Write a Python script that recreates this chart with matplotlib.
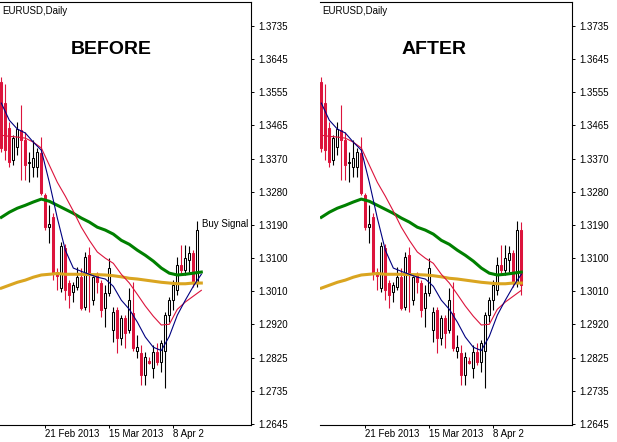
import numpy as np
import matplotlib
matplotlib.use("Agg")
import matplotlib.pyplot as plt
from matplotlib.transforms import Bbox, TransformedBbox, blended_transform_factory

plt.rcParams['font.family'] = ['Liberation Sans', 'DejaVu Sans']

# EURUSD daily bars, bar 0 ~ 6 Feb 2013
opens = [1.3581, 1.3524, 1.3455, 1.3368, 1.3403, 1.3450, 1.3422, 1.3359, 1.3348, 1.3348,
         1.3387, 1.3272, 1.3184, 1.3211, 1.3061, 1.3017, 1.3126, 1.3031, 1.3006, 1.3020,
         1.3047, 1.2965, 1.3107, 1.2984, 1.3053, 1.3031, 1.2962, 1.3003, 1.2902, 1.2957,
         1.2880, 1.2935, 1.2902, 1.2948, 1.2846, 1.2838, 1.2779, 1.2817, 1.2798, 1.2841,
         1.2814, 1.2846, 1.2943, 1.2984, 1.3011, 1.3080, 1.3066, 1.3094, 1.3113, 1.3031, 1.3176]
highs = [1.3595, 1.3576, 1.3472, 1.3436, 1.3472, 1.3518, 1.3444, 1.3390, 1.3422, 1.3401,
         1.3431, 1.3277, 1.3244, 1.3222, 1.3072, 1.3143, 1.3137, 1.3039, 1.3033, 1.3074,
         1.3072, 1.3116, 1.3129, 1.3050, 1.3061, 1.3039, 1.3025, 1.3099, 1.2965, 1.2965,
         1.2943, 1.2943, 1.3017, 1.3033, 1.2888, 1.2861, 1.2841, 1.2828, 1.2861, 1.2866,
         1.2874, 1.2951, 1.2992, 1.3039, 1.3102, 1.3135, 1.3135, 1.3132, 1.3121, 1.3201, 1.3198]
lows = [1.3390, 1.3368, 1.3348, 1.3354, 1.3381, 1.3313, 1.3313, 1.3307, 1.3321, 1.3321,
        1.3272, 1.3176, 1.3140, 1.3039, 1.3011, 1.3006, 1.2984, 1.2962, 1.2979, 1.3011,
        1.2957, 1.2957, 1.2951, 1.2970, 1.3003, 1.2937, 1.2910, 1.2995, 1.2869, 1.2838,
        1.2861, 1.2852, 1.2894, 1.2846, 1.2825, 1.2751, 1.2751, 1.2809, 1.2770, 1.2806,
        1.2787, 1.2743, 1.2924, 1.2957, 1.2998, 1.3058, 1.3053, 1.3061, 1.3020, 1.3020, 1.2998]
closes = [1.3401, 1.3395, 1.3362, 1.3428, 1.3453, 1.3422, 1.3354, 1.3362, 1.3373, 1.3390,
          1.3277, 1.3184, 1.3192, 1.3058, 1.3050, 1.3132, 1.3011, 1.2998, 1.3025, 1.3047,
          1.2962, 1.3102, 1.3053, 1.3047, 1.3033, 1.2957, 1.3003, 1.3072, 1.2951, 1.2880,
          1.2935, 1.2894, 1.2984, 1.2852, 1.2855, 1.2779, 1.2828, 1.2811, 1.2841, 1.2814,
          1.2866, 1.2943, 1.2984, 1.3025, 1.3080, 1.3066, 1.3099, 1.3113, 1.3031, 1.3176, 1.3025]

# moving averages, read every second bar
ma_x = list(range(0, 51, 2))
ma_blue = [1.3524, 1.3477, 1.3453, 1.3442, 1.3417, 1.3395, 1.3307, 1.3209, 1.3121, 1.3072,
           1.3063, 1.3055, 1.3047, 1.3042, 1.3022, 1.2984, 1.2959, 1.2924, 1.2883, 1.2855,
           1.2846, 1.2885, 1.2943, 1.2984, 1.3022, 1.3055]
ma_red = [1.3436, 1.3433, 1.3431, 1.3428, 1.3417, 1.3401, 1.3354, 1.3307, 1.3269, 1.3228,
          1.3184, 1.3148, 1.3116, 1.3099, 1.3085, 1.3055, 1.3031, 1.3000, 1.2968, 1.2940,
          1.2916, 1.2918, 1.2959, 1.2979, 1.2995, 1.3011]
ma_green = [1.3211, 1.3225, 1.3236, 1.3244, 1.3253, 1.3261, 1.3255, 1.3244, 1.3233, 1.3222,
            1.3209, 1.3198, 1.3184, 1.3176, 1.3165, 1.3148, 1.3137, 1.3121, 1.3107, 1.3091,
            1.3072, 1.3058, 1.3053, 1.3055, 1.3058, 1.3061]
ma_gold = [1.3017, 1.3025, 1.3033, 1.3039, 1.3047, 1.3053, 1.3055, 1.3057, 1.3055, 1.3055,
           1.3055, 1.3054, 1.3054, 1.3053, 1.3051, 1.3048, 1.3044, 1.3042, 1.3039, 1.3036,
           1.3033, 1.3031, 1.3029, 1.3029, 1.3031, 1.3031]

price_ticks = [1.3735, 1.3645, 1.3555, 1.3465, 1.3370, 1.3280, 1.3190,
               1.3100, 1.3010, 1.2920, 1.2825, 1.2735, 1.2645]
date_ticks = [11, 27, 43]
date_labels = ['21 Feb 2013', '15 Mar 2013', '8 Apr 2013']

RED = '#dc143c'
W, H = 617, 442
fig = plt.figure(figsize=(W / 100, H / 100), dpi=100)
fig.patch.set_facecolor('white')


def panel(left_px, width_px, nbars, title, signal):
    ax = fig.add_axes([left_px / W, 17 / H, width_px / W, 423 / H])
    n = nbars
    idx = np.arange(n)
    o = np.array(opens[:n]); c = np.array(closes[:n])
    h = np.array(highs[:n]); l = np.array(lows[:n])
    up = c >= o
    ax.vlines(idx[up], l[up], h[up], colors='black', lw=0.8, zorder=2)
    ax.vlines(idx[~up], l[~up], h[~up], colors=RED, lw=0.8, zorder=2)
    body = np.maximum(np.abs(c - o), 0.00008)
    ax.bar(idx, body, bottom=np.minimum(o, c), width=0.5,
           color=np.where(up, 'white', RED), edgecolor=np.where(up, 'black', RED),
           lw=0.75, zorder=3)

    ax.plot(ma_x, ma_gold, color='goldenrod', lw=2.2, zorder=4)
    ax.plot(ma_x, ma_green, color='green', lw=2.2, zorder=4)
    ax.plot(ma_x, ma_red, color=RED, lw=0.8, zorder=5)
    ax.plot(ma_x, ma_blue, color='navy', lw=0.8, zorder=5)

    ax.set_xlim(-0.33, -0.33 + width_px / 4)
    ax.set_ylim(1.2642, 1.3801)

    ax.yaxis.tick_right()
    ax.set_yticks(price_ticks)
    ax.set_yticklabels(['%.4f' % v for v in price_ticks])
    ax.tick_params(axis='y', length=2.5, width=0.7, pad=2.5, labelsize=7, direction='out')
    ax.set_xticks(date_ticks)
    ax.set_xticklabels([])
    ax.tick_params(axis='x', length=2.5, width=0.7, direction='out')
    ax.spines['left'].set_visible(False)
    for s in ['top', 'right', 'bottom']:
        ax.spines[s].set_linewidth(0.8)

    # date labels start at their tick, the last one is cut where the bars end
    clip = TransformedBbox(Bbox.from_extents(0, 0, (left_px + 204) / W, 1), fig.transFigure)
    tr = blended_transform_factory(ax.transData, fig.transFigure)
    for t, lab in zip(date_ticks, date_labels):
        txt = fig.text(t - 0.2, 1 - 429 / H, lab, transform=tr, fontsize=7,
                       ha='left', va='top')
        txt.set_clip_box(clip)
        txt.set_clip_on(True)

    fig.text((left_px + 2) / W, 1 - 11 / H, 'EURUSD,Daily', fontsize=7,
             ha='left', va='center')
    if signal:
        ax.text(50.2, 1.3192, 'Buy Signal', fontsize=7, ha='left', va='center', zorder=6)
    return ax


panel(0, 251, 50, 'BEFORE', True)
panel(320, 252, 51, 'AFTER', False)

fig.text(111 / W, 1 - 49 / H, 'BEFORE', fontsize=14, fontweight='bold',
         ha='center', va='center')
fig.text(434.5 / W, 1 - 49 / H, 'AFTER', fontsize=14, fontweight='bold',
         ha='center', va='center')

fig.savefig('out.png', dpi=100)
